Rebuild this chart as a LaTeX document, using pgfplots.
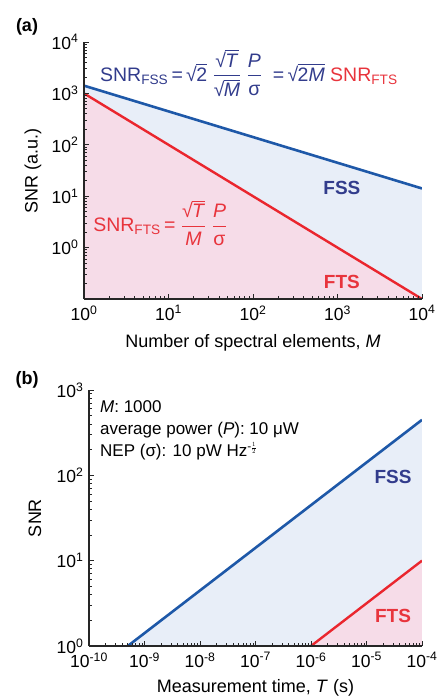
\documentclass[border=0pt]{standalone}
\usepackage{pgfplots}
\pgfplotsset{compat=1.18}
\usepackage{amsmath}
\usepackage{fontspec}
\setmainfont{Liberation Sans}
\definecolor{fssline}{RGB}{30,88,168}
\definecolor{ftsline}{RGB}{234,38,46}
\definecolor{fsstext}{RGB}{50,60,140}
\definecolor{ftstext}{RGB}{232,52,60}
\definecolor{fssfill}{RGB}{232,238,248}
\definecolor{ftsfill}{RGB}{246,220,232}
\newcommand{\sq}[1]{√\kern-0.6pt\ensuremath{\overline{\text{#1}}}}
\newcommand{\sfr}[2]{\ensuremath{\genfrac{}{}{0.9pt}{0}{\text{#1}}{\text{#2}}}}
\pgfplotsset{
  every axis/.append style={
    scale only axis,
    axis lines=left, axis line style={-, line width=1.4pt, black!85},
    tick align=inside, major tick length=5pt, minor tick length=3pt,
    tick style={line width=0.9pt, black!85},
    axis on top,
    tick label style={font=\fontsize{17.5}{20}\selectfont},
    xticklabel style={yshift=-3pt},
    yticklabel style={xshift=-2pt},
  }
}
\begin{document}
\begin{tikzpicture}
\path[use as bounding box] (0,0) rectangle (443pt,697pt);
\node[font=\bfseries\fontsize{18}{21}\selectfont] at (27pt,670pt) {(a)};
\node[font=\bfseries\fontsize{18}{21}\selectfont] at (27pt,317pt) {(b)};
% panel (a)
\begin{loglogaxis}[
  at={(84pt,398pt)}, anchor=south west, width=338pt, height=257pt,
  xmin=1, xmax=10000, ymin=0.1, ymax=10000,
  xtick={1,10,100,1000,10000},
  xticklabels={10\textsuperscript{0},10\textsuperscript{1},10\textsuperscript{2},10\textsuperscript{3},10\textsuperscript{4}},
  ytick={1,10,100,1000,10000},
  yticklabels={10\textsuperscript{0},10\textsuperscript{1},10\textsuperscript{2},10\textsuperscript{3},10\textsuperscript{4}},
  minor xtick={2,3,4,5,6,7,8,9,20,30,40,50,60,70,80,90,200,300,400,500,600,700,800,900,2000,3000,4000,5000,6000,7000,8000,9000},
  minor ytick={0.2,0.3,0.4,0.5,0.6,0.7,0.8,0.9,2,3,4,5,6,7,8,9,20,30,40,50,60,70,80,90,200,300,400,500,600,700,800,900,2000,3000,4000,5000,6000,7000,8000,9000},
  xlabel={Number of spectral elements, \textit{M}},
  ylabel={SNR (a.u.)},
  every axis x label/.style={at={(axis description cs:0.5,-0.171)}, anchor=center, font=\fontsize{18}{21}\selectfont},
  every axis y label/.style={at={(axis description cs:-0.151,0.5)}, anchor=center, rotate=90, font=\fontsize{18}{21}\selectfont},
]
\addplot[fill=fssfill, draw=none] coordinates {(1,1414.2) (10000,14.142) (10000,0.1) (1,0.1)} -- cycle;
\addplot[fill=ftsfill, draw=none] coordinates {(1,1000) (10000,0.1) (1,0.1)} -- cycle;
\addplot[fssline, line width=2.6pt] coordinates {(1,1414.2) (10000,14.142)};
\addplot[ftsline, line width=2.4pt] coordinates {(1,1000) (10000,0.1)};
\node[anchor=west, font=\fontsize{19.5}{24}\selectfont, text=fsstext, inner sep=0pt] at (rel axis cs:0.047,0.879)
  {SNR\textsubscript{FSS}\,=\,\sq{2}\ \sfr{\sq{\textit{T}}}{\sq{\textit{M}}}\ \sfr{\textit{P}}{σ}\ \ =\,\sq{2\textit{M}}\ \textcolor{ftstext}{SNR\textsubscript{FTS}}};
\node[anchor=west, font=\fontsize{19.5}{24}\selectfont, text=ftstext, inner sep=0pt] at (rel axis cs:0.027,0.296)
  {SNR\textsubscript{FTS}\,=\ \sfr{\sq{\textit{T}}}{\textit{M}}\ \sfr{\textit{P}}{σ}};
\node[font=\bfseries\fontsize{19}{22}\selectfont, text=fsstext] at (rel axis cs:0.763,0.432) {FSS};
\node[font=\bfseries\fontsize{19}{22}\selectfont, text=ftstext] at (rel axis cs:0.763,0.066) {FTS};
\end{loglogaxis}
% panel (b)
\begin{loglogaxis}[
  at={(89pt,51pt)}, anchor=south west, width=333pt, height=256pt,
  xmin=1e-10, xmax=1e-4, ymin=1, ymax=1000,
  xtick={1e-10,1e-9,1e-8,1e-7,1e-6,1e-5,1e-4},
  xticklabels={10\textsuperscript{-10},10\textsuperscript{-9},10\textsuperscript{-8},10\textsuperscript{-7},10\textsuperscript{-6},10\textsuperscript{-5},10\textsuperscript{-4}},
  ytick={1,10,100,1000},
  yticklabels={10\textsuperscript{0},10\textsuperscript{1},10\textsuperscript{2},10\textsuperscript{3}},
  minor xtick={2e-10,3e-10,4e-10,5e-10,6e-10,7e-10,8e-10,9e-10,2e-9,3e-9,4e-9,5e-9,6e-9,7e-9,8e-9,9e-9,2e-8,3e-8,4e-8,5e-8,6e-8,7e-8,8e-8,9e-8,2e-7,3e-7,4e-7,5e-7,6e-7,7e-7,8e-7,9e-7,2e-6,3e-6,4e-6,5e-6,6e-6,7e-6,8e-6,9e-6,2e-5,3e-5,4e-5,5e-5,6e-5,7e-5,8e-5,9e-5},
  minor ytick={2,3,4,5,6,7,8,9,20,30,40,50,60,70,80,90,200,300,400,500,600,700,800,900},
  xlabel={Measurement time, \textit{T} (s)},
  ylabel={SNR},
  every axis x label/.style={at={(axis description cs:0.5,-0.164)}, anchor=center, font=\fontsize{18}{21}\selectfont},
  every axis y label/.style={at={(axis description cs:-0.162,0.5)}, anchor=center, rotate=90, font=\fontsize{18}{21}\selectfont},
]
\addplot[fill=fssfill, draw=none] coordinates {(5e-10,1) (1e-4,447.2) (1e-4,1)} -- cycle;
\addplot[fill=ftsfill, draw=none] coordinates {(1e-6,1) (1e-4,10) (1e-4,1)} -- cycle;
\addplot[fssline, line width=2.6pt] coordinates {(5e-10,1) (1e-4,447.2)};
\addplot[ftsline, line width=2.4pt] coordinates {(1e-6,1) (1e-4,10)};
\node[anchor=north west, align=left, font=\fontsize{17}{22}\selectfont, inner sep=0pt] at (rel axis cs:0.033,0.958)
  {\textit{M}: 1000\\average power (\textit{P}): 10 μW\\NEP (σ): 10 pW Hz\textsuperscript{-\scalebox{0.8}{$\frac{1}{2}$}}};
\node[font=\bfseries\fontsize{19}{22}\selectfont, text=fsstext] at (rel axis cs:0.913,0.66) {FSS};
\node[font=\bfseries\fontsize{19}{22}\selectfont, text=ftstext] at (rel axis cs:0.913,0.117) {FTS};
\end{loglogaxis}
\end{tikzpicture}
\end{document}
